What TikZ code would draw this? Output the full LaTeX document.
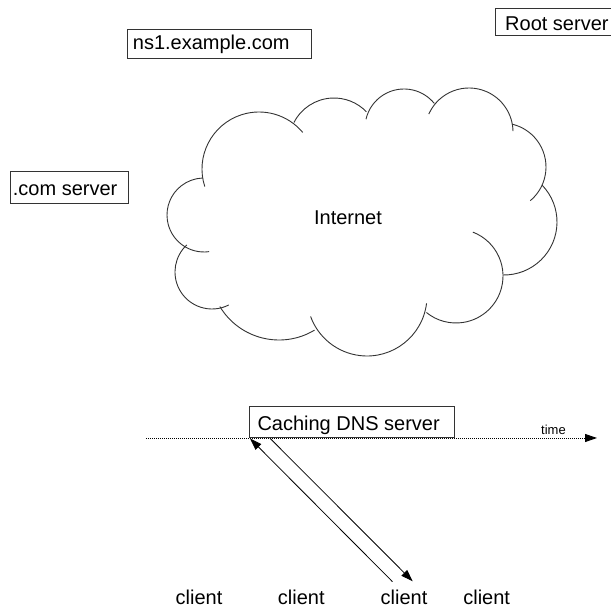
\documentclass[tikz,border=0pt]{standalone}
\usepackage{fontspec}
\setmainfont{Liberation Sans}
\usetikzlibrary{arrows.meta}

\tikzset{
  lbl/.style={inner sep=0pt, anchor=base west, font=\fontsize{20}{24}\selectfont, text=black},
  ctr/.style={inner sep=0pt, anchor=base, font=\fontsize{20}{24}\selectfont, text=black},
  frame/.style={draw=black!80, line width=0.9pt},
  puff/.style={draw=black!80, line width=0.9pt},
  msg/.style={draw=black, line width=0.8pt, -{Triangle[length=12pt,width=8pt]}},
  timeline/.style={draw=black, line width=0.9pt, dash pattern=on 1pt off 1pt,
                   -{Triangle[length=12pt,width=8pt]}}
}

\begin{document}
\begin{tikzpicture}[x=1pt, y=1pt]
\useasboundingbox (0,0) rectangle (611,610);

% Internet cloud, built from overlapping circular puffs
\draw[puff] (259,441) ++(198:57) arc[start angle=198, end angle=40, radius=57];
\draw[puff] (334,467) ++(153:45) arc[start angle=153, end angle=44, radius=45];
\draw[puff] (404,482) ++(167:39) arc[start angle=167, end angle=39, radius=39];
\draw[puff] (469,478) ++(156:44) arc[start angle=156, end angle=1, radius=44];
\draw[puff] (502,443) ++(77:44) arc[start angle=77, end angle=-50, radius=44];
\draw[puff] (504,388) ++(44:53) arc[start angle=44, end angle=-91, radius=53];
\draw[puff] (456,334) ++(69:47) arc[start angle=69, end angle=-129, radius=47];
\draw[puff] (367,314) ++(-7:60) arc[start angle=-7, end angle=-160, radius=60];
\draw[puff] (279,339) ++(-59:69) arc[start angle=-59, end angle=-149, radius=69];
\draw[puff] (212,338) ++(-63:37) arc[start angle=-63, end angle=-227, radius=37];
\draw[puff] (204,395) ++(-82:37) arc[start angle=-82, end angle=-268, radius=37];
\node[ctr] (internet) at (348,385) {Internet};

% name servers
\draw[frame] (495,574.3) rectangle (612,601.7);
\node[lbl] (root) at (505,579.3) {Root server};

\draw[frame] (127,552) rectangle (311,581);
\node[lbl] (ns1) at (132.7,560) {ns1.example.com};

\draw[frame] (10,406.7) rectangle (128,438.3);
\node[lbl] (com) at (12.7,414) {.com server};

% time axis with the caching server on it
\coordinate (tstart) at (146,172);
\coordinate (tend) at (597,172);
\draw[timeline] (tstart) -- (tend);
\node[inner sep=0pt, anchor=base west, font=\fontsize{13}{15}\selectfont] (time) at (541,175.7) {time};

\draw[frame, fill=white] (249.3,172.3) rectangle (454.3,203.3);
\node[lbl] (cache) at (257.3,179.3) {Caching DNS server};

% clients
\node[ctr] (c1) at (199,5.7) {client};
\node[ctr] (c2) at (301.3,5.7) {client};
\node[ctr] (c3) at (404,5.7) {client};
\node[ctr] (c4) at (486.7,5.7) {client};

% query and answer between client and cache
\coordinate (qfrom) at (392.5,28.3);
\coordinate (qto) at (250,171.5);
\coordinate (afrom) at (270,171.7);
\coordinate (ato) at (412.7,28.7);
\draw[msg] (qfrom) -- (qto);
\draw[msg] (afrom) -- (ato);
\end{tikzpicture}
\end{document}
